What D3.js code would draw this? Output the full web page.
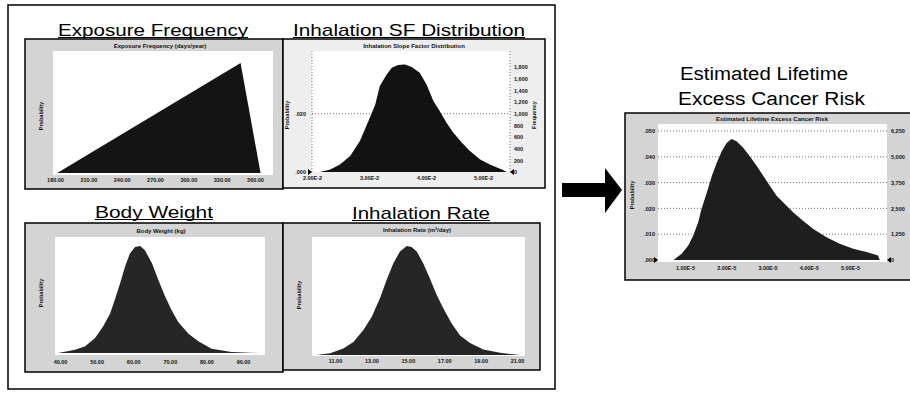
<!DOCTYPE html>
<html>
<head>
<meta charset="utf-8">
<script src="https://cdn.jsdelivr.net/npm/d3@7"></script>
<style>
  body { margin: 0; background: #fff; }
  svg { display: block; }
</style>
</head>
<body>
<svg id="chart" width="910" height="396"></svg>
<script>
// ---- data ----
// exposure frequency (days/year), triangular
const efX = [182, 347, 365];
const efY = [0, 1, 0];
const efTicks = [180, 210, 240, 270, 300, 330, 360];

// inhalation slope factor, histogram counts
const sfX = [0.0214, 0.0232, 0.0249, 0.0267, 0.0284, 0.0299, 0.0311, 0.0319, 0.0331, 0.0340, 0.0351, 0.0363, 0.0375,
  0.0389, 0.0401, 0.0413, 0.0424, 0.0436, 0.0448, 0.0463, 0.0477, 0.0495, 0.0512, 0.0533, 0.0542];
const sfCount = [0, 45, 130, 274, 531, 874, 1159, 1474, 1673, 1788, 1834, 1844, 1800,
  1702, 1502, 1217, 1046, 845, 674, 502, 360, 216, 130, 45, 0];
const sfTicks = [0.02, 0.03, 0.04, 0.05];
const sfCountTicks = [0, 200, 400, 600, 800, 1000, 1200, 1400, 1600, 1800];
const sfProbTicks = [0, 0.02];

// body weight (kg)
const bwX = [39.5, 44.1, 46.8, 49.6, 51.8, 53.7, 55.0, 56.4, 57.8, 59.1, 60.5, 61.9, 63.2, 65.1, 66.9, 68.7, 70.5,
  72.3, 75.1, 77.8, 81.4, 86.9, 94.2];
const bwY = [0, 0.03, 0.06, 0.14, 0.25, 0.37, 0.50, 0.65, 0.81, 0.93, 0.99, 1.0, 0.96, 0.84, 0.68, 0.53, 0.40,
  0.29, 0.18, 0.11, 0.04, 0.01, 0];
const bwTicks = [40, 50, 60, 70, 80, 90];

// inhalation rate (m3/day)
const irX = [9.99, 10.73, 11.46, 12.01, 12.56, 13.02, 13.47, 13.84, 14.20, 14.57, 14.94, 15.21, 15.49, 15.85, 16.22,
  16.59, 16.95, 17.41, 17.87, 18.42, 19.15, 20.07, 21.17];
const irY = [0, 0.015, 0.06, 0.12, 0.23, 0.35, 0.52, 0.69, 0.84, 0.95, 1.0, 0.99, 0.95, 0.84, 0.70,
  0.55, 0.43, 0.29, 0.18, 0.11, 0.05, 0.02, 0];
const irTicks = [11, 13, 15, 17, 19, 21];

// estimated lifetime excess cancer risk (x in 1e-5)
const riskX = [0.72, 0.92, 1.08, 1.20, 1.32, 1.40, 1.53, 1.65, 1.77, 1.89, 2.01, 2.13, 2.25, 2.41, 2.57, 2.74, 2.90,
  3.06, 3.22, 3.42, 3.62, 3.86, 4.11, 4.43, 4.75, 5.08, 5.40, 5.68, 5.72];
const riskCount = [0, 303, 705, 1186, 1827, 2468, 3269, 4071, 4712, 5272, 5673, 5865, 5753, 5433, 5032, 4551, 4071,
  3590, 3109, 2708, 2308, 1907, 1506, 1106, 785, 545, 385, 224, 0];
const riskTicks = [1, 2, 3, 4, 5];
const riskCountTicks = [0, 1250, 2500, 3750, 5000, 6250];
const riskProbTicks = [0, 0.01, 0.02, 0.03, 0.04, 0.05];

const FONT = 'Liberation Sans, Arial, sans-serif';
const svg = d3.select('#chart');
svg.append('rect').attr('width', 910).attr('height', 396).attr('fill', '#fff');

const probFmt = v => d3.format('.3f')(v).replace(/^0/, '');

// outer box round the four inputs
svg.append('rect').attr('x', 8).attr('y', 5).attr('width', 547).attr('height', 384)
  .attr('fill', 'none').attr('stroke', '#000').attr('stroke-width', 1.5);

function bigTitle(txt, x0, x1, baseline, size, underline) {
  svg.append('text').attr('x', x0).attr('y', baseline)
    .attr('textLength', x1 - x0).attr('lengthAdjust', 'spacingAndGlyphs')
    .attr('font-family', FONT).attr('font-size', size).attr('fill', '#000').text(txt);
  if (underline) {
    svg.append('line').attr('x1', x0).attr('x2', x1).attr('y1', baseline + 1.5).attr('y2', baseline + 1.5)
      .attr('stroke', '#000').attr('stroke-width', 1);
  }
}

function smallText(g, txt, x, y, anchor, rotate) {
  const t = g.append('text').attr('font-family', FONT).attr('font-size', 5.5).attr('font-weight', 'bold')
    .attr('fill', '#111').attr('text-anchor', anchor).attr('dominant-baseline', 'middle').text(txt);
  if (rotate) t.attr('transform', `translate(${x},${y}) rotate(-90)`);
  else t.attr('x', x).attr('y', y);
  return t;
}

function panel(p) {
  const g = svg.append('g');
  const [fx0, fy0, fx1, fy1] = p.frame;
  const [px0, py0, px1, py1] = p.plot;
  g.append('rect').attr('x', fx0).attr('y', fy0).attr('width', fx1 - fx0).attr('height', fy1 - fy0)
    .attr('fill', p.bg).attr('stroke', '#000').attr('stroke-width', 1.5);
  g.append('rect').attr('x', px0).attr('y', py0).attr('width', px1 - px0).attr('height', py1 - py0).attr('fill', '#fff');

  const x = d3.scaleLinear().domain(p.xDomain).range(p.xRange);
  const y = d3.scaleLinear().domain(p.yDomain).range(p.yRange);

  // dotted grid
  (p.grid || []).forEach(v => {
    g.append('line').attr('x1', px0).attr('x2', px1).attr('y1', y(v)).attr('y2', y(v))
      .attr('stroke', '#555').attr('stroke-width', 0.8).attr('stroke-dasharray', '1,2');
  });
  if (p.vGrid) {
    [px0, px1].forEach(vx => g.append('line').attr('x1', vx).attr('x2', vx).attr('y1', py0).attr('y2', py1)
      .attr('stroke', '#555').attr('stroke-width', 0.8).attr('stroke-dasharray', '1,2'));
  }

  const area = d3.area().x(d => x(d[0])).y0(y(0)).y1(d => y(d[1]));
  g.append('path').datum(d3.zip(p.xs, p.ys)).attr('d', area).attr('fill', p.fill);

  // x tick labels
  const ax = g.append('g').attr('transform', `translate(0,${p.tickY})`)
    .call(d3.axisBottom(x).tickValues(p.ticks).tickFormat(p.fmt).tickSize(0).tickPadding(0));
  ax.select('.domain').remove();
  ax.selectAll('text').attr('font-family', FONT).attr('font-size', 5.5).attr('font-weight', 'bold')
    .attr('fill', '#111').attr('dy', '0.35em');

  // left probability ticks / right frequency ticks
  if (p.probTicks) {
    const yp = d3.scaleLinear().domain(p.probDomain).range(p.yRange);
    const al = g.append('g').attr('transform', `translate(${p.leftTickX},0)`)
      .call(d3.axisLeft(yp).tickValues(p.probTicks).tickFormat(probFmt).tickSize(0).tickPadding(0));
    al.select('.domain').remove();
    al.selectAll('text').attr('font-family', FONT).attr('font-size', 5.5).attr('font-weight', 'bold').attr('fill', '#111');
  }
  if (p.countTicks) {
    const ar = g.append('g').attr('transform', `translate(${p.rightTickX},0)`)
      .call(d3.axisRight(y).tickValues(p.countTicks).tickFormat(d3.format(',')).tickSize(0).tickPadding(0));
    ar.select('.domain').remove();
    ar.selectAll('text').attr('font-family', FONT).attr('font-size', 5.5).attr('font-weight', 'bold').attr('fill', '#111');
  }
  // end markers
  if (p.markers) {
    const by = y(0);
    g.append('path').attr('d', `M${px0 - 4},${by - 3}L${px0},${by}L${px0 - 4},${by + 3}Z`).attr('fill', '#000');
    g.append('path').attr('d', `M${px1 + 4},${by - 3}L${px1},${by}L${px1 + 4},${by + 3}Z`).attr('fill', '#000');
  }

  smallText(g, p.title, p.titlePos[0], p.titlePos[1], 'middle', false).attr('font-size', 6);
  smallText(g, 'Probability', p.yLabel[0], p.yLabel[1], 'middle', true);
  if (p.yLabelR) smallText(g, 'Frequency', p.yLabelR[0], p.yLabelR[1], 'middle', true);
}

// titles
bigTitle('Exposure Frequency', 58, 248, 36, 17, true);
bigTitle('Inhalation SF Distribution', 293, 525, 36, 17, true);
bigTitle('Body Weight', 95, 213, 218, 17, true);
bigTitle('Inhalation Rate', 352, 490, 219, 17, true);
bigTitle('Estimated Lifetime', 680, 848, 80, 18, false);
bigTitle('Excess Cancer Risk', 678, 865, 105, 18, false);

panel({
  frame: [25, 39, 283, 189], plot: [53, 51, 273, 175], bg: '#d4d4d4', fill: '#141414',
  xDomain: [180, 360], xRange: [55, 255], yDomain: [0, 1], yRange: [173, 63],
  xs: efX, ys: efY, ticks: efTicks, fmt: d3.format('.2f'), tickY: 180,
  title: 'Exposure Frequency (days/year)', titlePos: [160, 46], yLabel: [42, 116]
});

panel({
  frame: [283, 39, 545, 188], plot: [312, 51, 510, 172], bg: '#eeeeee', fill: '#121212',
  xDomain: [0.02, 0.05], xRange: [312, 483], yDomain: [0, 1800], yRange: [172, 67],
  xs: sfX, ys: sfCount, ticks: sfTicks, fmt: v => d3.format('.2e')(v).replace('e', 'E'), tickY: 178,
  grid: [1000], vGrid: true, markers: true,
  probTicks: sfProbTicks, probDomain: [0, 0.036], leftTickX: 306,
  countTicks: sfCountTicks, rightTickX: 514,
  title: 'Inhalation Slope Factor Distribution', titlePos: [414, 46], yLabel: [288, 115], yLabelR: [535, 115]
});

panel({
  frame: [25, 223, 283, 372], plot: [55, 237, 265, 355], bg: '#d4d4d4', fill: '#262626',
  xDomain: [40, 90], xRange: [60, 243], yDomain: [0, 1], yRange: [353, 246],
  xs: bwX, ys: bwY, ticks: bwTicks, fmt: d3.format('.2f'), tickY: 362,
  title: 'Body Weight (kg)', titlePos: [161, 231], yLabel: [42, 293]
});

panel({
  frame: [283, 223, 540, 370], plot: [312, 237, 525, 356], bg: '#d4d4d4', fill: '#262626',
  xDomain: [11, 21], xRange: [335, 517], yDomain: [0, 1], yRange: [355, 246],
  xs: irX, ys: irY, ticks: irTicks, fmt: d3.format('.2f'), tickY: 361,
  title: 'Inhalation Rate (m³/day)', titlePos: [417, 230], yLabel: [300, 295]
});

panel({
  frame: [625, 113, 915, 280], plot: [658, 124, 887, 262], bg: '#d4d4d4', fill: '#1e1e1e',
  xDomain: [1, 5], xRange: [685, 850], yDomain: [0, 6250], yRange: [260, 131],
  xs: riskX, ys: riskCount, ticks: riskTicks, fmt: v => d3.format('.2f')(v) + 'E-5', tickY: 268,
  grid: riskCountTicks.slice(1), markers: true,
  probTicks: riskProbTicks, probDomain: [0, 0.05], leftTickX: 655,
  countTicks: riskCountTicks, rightTickX: 891,
  title: 'Estimated Lifetime Excess Cancer Risk', titlePos: [772, 119], yLabel: [633, 195]
});

// arrow between the inputs and the result
svg.append('path')
  .attr('d', 'M562,183L605,183L605,168L622,190L605,213L605,197L562,197Z')
  .attr('fill', '#000');
</script>
</body>
</html>
